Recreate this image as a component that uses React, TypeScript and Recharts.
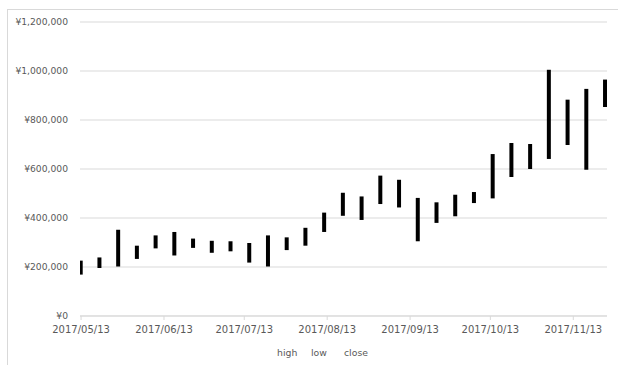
import React from "react";
import { ComposedChart, Bar, Line, XAxis, YAxis, CartesianGrid } from "recharts";

const dates = [
  "2017/05/13", "2017/05/20", "2017/05/27", "2017/06/03", "2017/06/10", "2017/06/17",
  "2017/06/24", "2017/07/01", "2017/07/08", "2017/07/15", "2017/07/22", "2017/07/29",
  "2017/08/05", "2017/08/12", "2017/08/19", "2017/08/26", "2017/09/02", "2017/09/09",
  "2017/09/16", "2017/09/23", "2017/09/30", "2017/10/07", "2017/10/14", "2017/10/21",
  "2017/10/28", "2017/11/04", "2017/11/11", "2017/11/18", "2017/11/25",
];
const high = [
  226000, 239000, 352000, 287000, 329000, 343000, 316000, 307000, 305000, 298000,
  329000, 321000, 360000, 422000, 503000, 488000, 573000, 556000, 482000, 464000,
  495000, 506000, 661000, 706000, 702000, 1005000, 883000, 927000, 965000,
];
const low = [
  169000, 196000, 202000, 233000, 276000, 247000, 278000, 258000, 264000, 218000,
  202000, 269000, 287000, 343000, 409000, 392000, 457000, 443000, 305000, 380000,
  407000, 461000, 480000, 567000, 600000, 641000, 698000, 597000, 853000,
];
const close = [
  200000, 230000, 330000, 270000, 300000, 290000, 300000, 290000, 280000, 260000,
  300000, 300000, 350000, 410000, 470000, 450000, 540000, 480000, 420000, 430000,
  480000, 500000, 640000, 690000, 650000, 800000, 780000, 900000, 940000,
];
const tickLabels = [
  "2017/05/13", "2017/06/13", "2017/07/13", "2017/08/13", "2017/09/13", "2017/10/13", "2017/11/13",
];
const yTicks = [0, 200000, 400000, 600000, 800000, 1000000, 1200000];
const legendNames = ["high", "low", "close"];

const DAY = 86400000;
const toMs = (s: string) => {
  const [y, m, d] = s.split("/").map(Number);
  return Date.UTC(y, m - 1, d);
};
const origin = toMs(dates[0]);
const dayOf = (s: string) => Math.round((toMs(s) - origin) / DAY);

const data = dates.map((d, i) => ({
  day: dayOf(d),
  range: [low[i], high[i]],
  high: high[i],
  low: low[i],
  close: close[i],
}));
const xTicks = tickLabels.map(dayOf);
const tickNameByDay: Record<number, string> = {};
tickLabels.forEach((t) => (tickNameByDay[dayOf(t)] = t));

const yen = (v: number) => "¥" + v.toLocaleString("en-US");

export default function App() {
  return (
    <div style={{ position: "absolute", left: 0, top: 0, width: 618, height: 365, overflow: "hidden", background: "#fff" }}>
      <div style={{ position: "absolute", left: 7, top: 9, width: 700, height: 500, border: "1px solid #d9d9d9" }} />
      <div style={{ position: "absolute", left: 0, top: 0 }}>
        <ComposedChart width={618} height={365} data={data} margin={{ top: 22, right: 11, bottom: 19, left: 8 }}>
          <CartesianGrid vertical={false} stroke="#d9d9d9" strokeWidth={1} />
          <XAxis
            dataKey="day"
            type="number"
            domain={[-0.4, 196.6]}
            allowDataOverflow
            ticks={xTicks}
            tickFormatter={(v: number) => tickNameByDay[v] || ""}
            axisLine={{ stroke: "#d9d9d9" }}
            tickLine={{ stroke: "#d9d9d9" }}
            tickSize={4}
            tickMargin={6}
            height={30}
            tick={{ fill: "#595959", fontSize: 10, fontFamily: "DejaVu Sans" }}
            interval={0}
          />
          <YAxis
            type="number"
            domain={[0, 1200000]}
            ticks={yTicks}
            tickFormatter={yen}
            width={72}
            axisLine={false}
            tickLine={false}
            tickSize={0}
            tickMargin={12}
            tick={{ fill: "#595959", fontSize: 9.2, fontFamily: "DejaVu Sans" }}
          />
          <Bar dataKey="range" name="high" fill="#000000" barSize={4} isAnimationActive={false} />
          <Line dataKey="close" name="close" stroke="none" dot={false} activeDot={false} isAnimationActive={false} />
        </ComposedChart>
      </div>
      <div style={{ position: "absolute", left: 0, top: 347, width: 618, height: 14, fontFamily: "DejaVu Sans", fontSize: 9.3, color: "#595959" }}>
        {legendNames.map((n, i) => (
          <span key={n} style={{ position: "absolute", left: [277, 311, 344][i], top: 0 }}>{n}</span>
        ))}
      </div>
    </div>
  );
}
